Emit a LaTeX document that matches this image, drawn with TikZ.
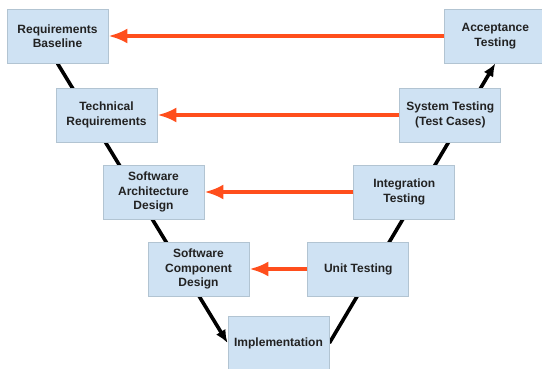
\documentclass[tikz,border=0pt]{standalone}
\usepackage{fontspec}
\setmainfont{Liberation Sans}
\usetikzlibrary{arrows.meta, positioning, backgrounds}

\definecolor{boxfill}{RGB}{207,226,243}
\definecolor{boxline}{RGB}{178,196,210}
\definecolor{trace}{RGB}{255,78,28}
\definecolor{txt}{RGB}{34,34,34}

\begin{document}
\begin{tikzpicture}[
    x=1pt, y=1pt,
    box/.style={draw=boxline, fill=boxfill, line width=0.8pt, align=center,
                minimum width=101pt, minimum height=54pt, inner sep=2pt,
                text=txt, font=\fontsize{12}{14.5}\selectfont\bfseries},
    arrow/.style={-{Latex[length=13pt,width=11pt]}, line width=3.6pt, black},
    tracearrow/.style={-{Latex[length=19pt,width=15pt]}, line width=3.6pt, trace}
]
\useasboundingbox (0,0) rectangle (542,368);

% Left leg of the V
\node[box] (baseline) at (57.5,332) {Requirements\\Baseline};
\node[box] (techreq) at (106.5,253) {Technical\\Requirements};
\node[box] (archdesign) at (153.5,176) {Software\\Architecture\\Design};
\node[box] (compdesign) at (198.5,99) {Software\\Component\\Design};

% Bottom of the V
\node[box] (impl) at (278.5,25) {Implementation};

% Right leg of the V
\node[box, right=336pt of baseline] (acceptance) {Acceptance\\Testing};
\node[box, right=242pt of techreq] (systest) {System Testing\\(Test Cases)};
\node[box, right=149pt of archdesign] (integration) {Integration\\Testing};
\node[box, right=58pt of compdesign] (unittest) {Unit Testing};

% V lines, behind the boxes
\begin{pgfonlayer}{background}
\draw[arrow] (baseline.south) -- (impl.west);
\draw[arrow] (impl.east) -- (acceptance.south);
\end{pgfonlayer}

% Traceability arrows
\draw[tracearrow] (acceptance) -- (baseline);
\draw[tracearrow] (systest) -- (techreq);
\draw[tracearrow] (integration) -- (archdesign);
\draw[tracearrow] (unittest) -- (compdesign);

\end{tikzpicture}
\end{document}
